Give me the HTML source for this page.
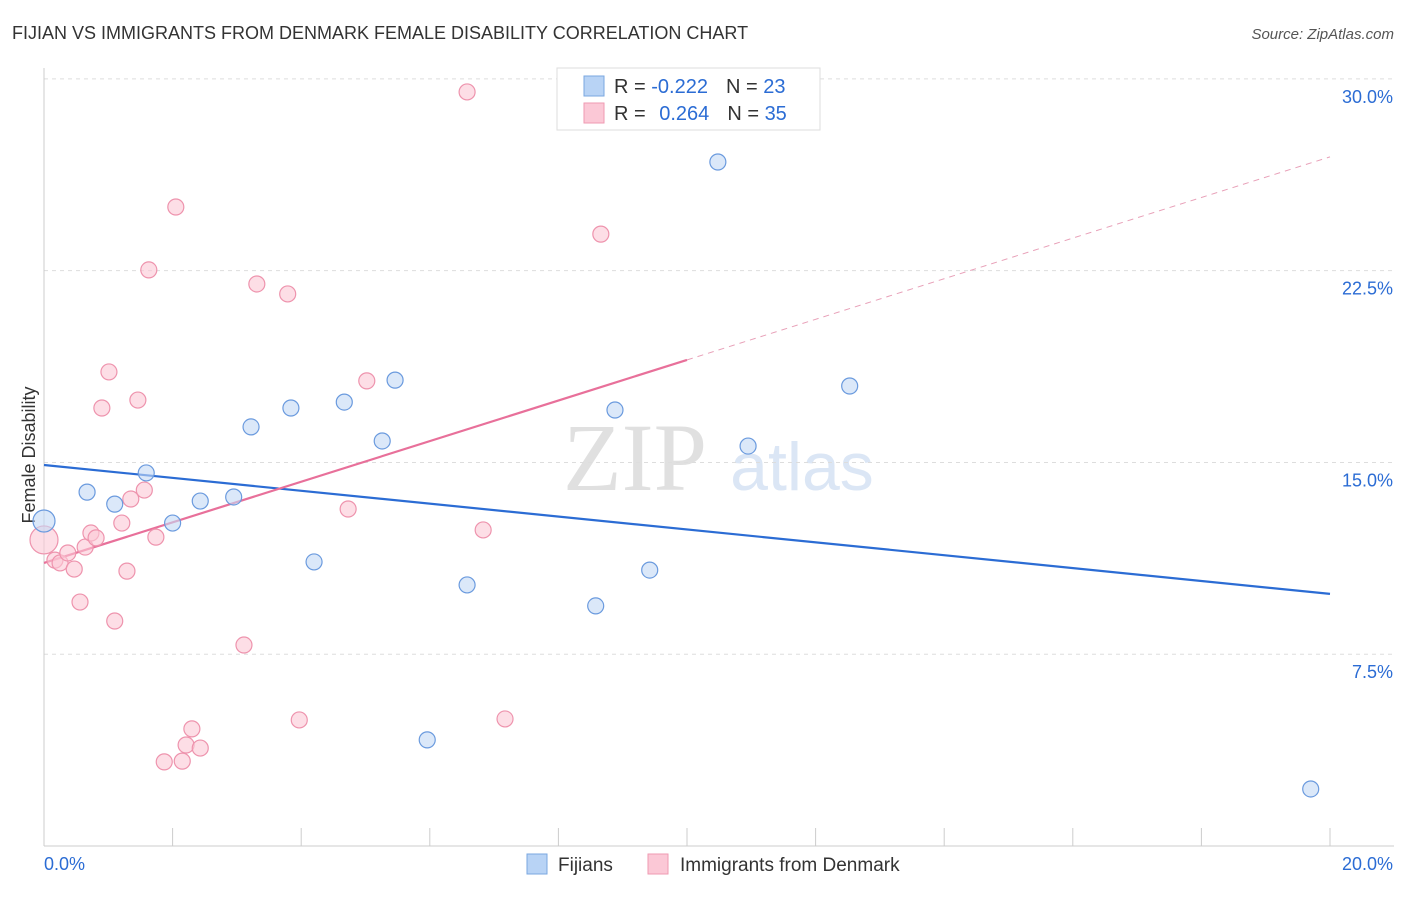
<!DOCTYPE html>
<html><head><meta charset="utf-8"><style>
body{margin:0;background:#fff;font-family:"Liberation Sans",sans-serif;}
</style></head><body>
<svg id="c" width="1406" height="892" xmlns="http://www.w3.org/2000/svg" style="font-family:'Liberation Sans',sans-serif">
<text x="12" y="39" font-size="18" fill="#333">FIJIAN VS IMMIGRANTS FROM DENMARK FEMALE DISABILITY CORRELATION CHART</text>
<text x="1394" y="39" font-size="15" fill="#555" text-anchor="end" font-style="italic">Source: ZipAtlas.com</text>
<text x="35" y="455" font-size="18" fill="#333" text-anchor="middle" transform="rotate(-90 35 455)">Female Disability</text>
<text x="635" y="490" font-size="96" fill="#e0e0e0" style="font-family:'Liberation Serif',serif" text-anchor="middle">ZIP</text>
<text x="802" y="490" font-size="68" fill="#dbe6f5" text-anchor="middle">atlas</text>
<g id="grid"></g><g id="axes"></g><g id="lines"></g><g id="pts"></g>
<g>
<rect x="557" y="68" width="263" height="62" fill="#fff" stroke="#ddd"/>
<rect x="584" y="76" width="20" height="20" fill="#b8d3f5" stroke="#7aa7e0"/>
<rect x="584" y="103" width="20" height="20" fill="#fbc8d6" stroke="#ef9ab2"/>
<text x="614" y="93" font-size="20" fill="#333">R = <tspan fill="#2b6cd4">-0.222</tspan><tspan dx="18">N = </tspan><tspan fill="#2b6cd4">23</tspan></text>
<text x="614" y="120" font-size="20" fill="#333">R = <tspan fill="#2b6cd4" dx="8">0.264</tspan><tspan dx="18">N = </tspan><tspan fill="#2b6cd4">35</tspan></text>
</g>
<g>
<rect x="527" y="854" width="20" height="20" fill="#b8d3f5" stroke="#7aa7e0"/>
<text x="558" y="871" font-size="19" fill="#333">Fijians</text>
<rect x="648" y="854" width="20" height="20" fill="#fbc8d6" stroke="#ef9ab2"/>
<text x="680" y="871" font-size="19" fill="#333">Immigrants from Denmark</text>
</g>
</svg>
<script>
const yTicks=[7.5,15,22.5,30];
const yTickLabels=["7.5%","15.0%","22.5%","30.0%"];
const xTickLabels=["0.0%","20.0%"];
const blueX=[0,0.67,1.1,1.59,2.0,2.43,2.95,3.22,3.84,4.2,4.67,5.26,5.46,5.96,6.58,8.58,8.88,9.42,10.48,10.95,12.53,19.7];
const blueY=[12.71,13.84,13.37,14.59,12.63,13.49,13.65,16.39,17.13,11.11,17.36,15.84,18.22,4.15,10.21,9.39,17.05,10.79,26.75,15.64,17.99,2.23];
const pinkX=[0,0.17,0.25,0.37,0.47,0.56,0.64,0.73,0.81,0.9,1.01,1.1,1.21,1.29,1.35,1.46,1.56,1.63,1.74,1.87,2.05,2.15,2.21,2.3,2.43,3.11,3.31,3.79,3.97,4.73,5.02,6.58,6.83,7.17,8.66];
const pinkY=[11.97,11.18,11.07,11.46,10.83,9.54,11.69,12.24,12.05,17.13,18.54,8.8,12.63,10.75,13.57,17.44,13.92,22.53,12.08,3.29,24.99,3.32,3.95,4.58,3.83,7.86,21.98,21.59,4.93,13.18,18.19,29.49,12.36,4.97,23.93];
const blueTrend=[14.9,9.86];
const pinkTrend=[11.07,26.95];
const X=v=>44+v*64.3, Y=v=>846-v*25.57;
const NS="http://www.w3.org/2000/svg";
function mk(p,t,a){const e=document.createElementNS(NS,t);for(const k in a)e.setAttribute(k,a[k]);document.getElementById(p).appendChild(e);return e;}
yTicks.forEach((t,i)=>{
 const g=mk('grid','line',{x1:44,x2:1394,y1:Y(t),y2:Y(t),stroke:'#ddd','stroke-dasharray':'4,4'});
 
 
 const l=mk('grid','text',{x:1393,y:Y(t)+24,'font-size':18,fill:'#2b6cd4','text-anchor':'end'});l.textContent=yTickLabels[i];
 
 
});
mk('axes','line',{x1:44,x2:44,y1:68,y2:846,stroke:'#ccc'});
mk('axes','line',{x1:44,x2:1394,y1:846,y2:846,stroke:'#ccc'});
for(let i=0;i<=20;i+=2){const t=mk('axes','line',{x1:X(i),x2:X(i),y1:828,y2:846,stroke:'#ccc'});
 
 }
[[0,44,'start'],[1,1393,'end']].forEach(([i,x,a])=>{const t=mk('axes','text',{x:x,y:870,'font-size':18,fill:'#2b6cd4','text-anchor':a});t.textContent=xTickLabels[i];
 
 });
function dot(x,y,fill,st,r){const c=mk('pts','circle',{cx:X(x),cy:Y(y),r:r,fill:fill,stroke:st,'stroke-width':1.2,'fill-opacity':0.6});return c;}
pinkX.forEach((x,i)=>{const c=dot(x,pinkY[i],'#fbc8d6','#ee93ad',i==0?14:8);
 
 });
blueX.forEach((x,i)=>{const c=dot(x,blueY[i],'#c3d9f5','#6a9ade',i==0?11:8);
 
 });
const bl=mk('lines','line',{x1:X(0),y1:Y(blueTrend[0]),x2:X(20),y2:Y(blueTrend[1]),stroke:'#2b6cd4','stroke-width':2.2});


const pm=pinkTrend[0]+(pinkTrend[1]-pinkTrend[0])*0.5;
const pl=mk('lines','line',{x1:X(0),y1:Y(pinkTrend[0]),x2:X(10),y2:Y(pm),stroke:'#e8709a','stroke-width':2.2});


const pd=mk('lines','line',{x1:X(10),y1:Y(pm),x2:X(20),y2:Y(pinkTrend[1]),stroke:'#e8a0b8','stroke-width':1,'stroke-dasharray':'6,5'});


</script>
</body></html>
